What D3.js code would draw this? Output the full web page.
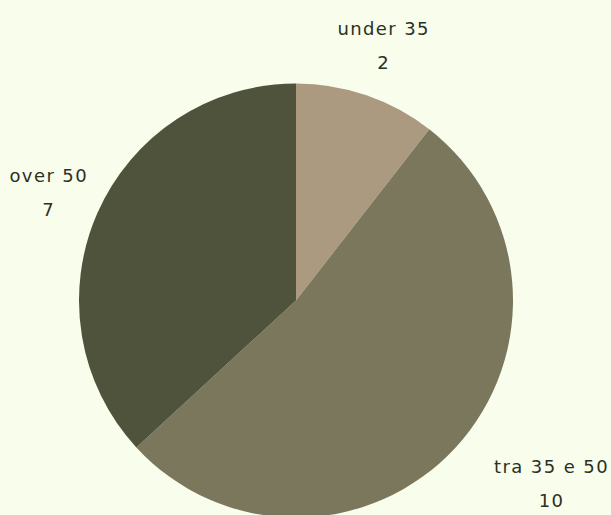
<!DOCTYPE html>
<html>
<head>
<meta charset="utf-8">
<script src="https://cdn.jsdelivr.net/npm/d3@7"></script>
<style>
  html, body { margin: 0; padding: 0; background: #f8fdec; }
  svg { display: block; }
</style>
</head>
<body>
<svg id="chart" width="611" height="515"></svg>
<script>
// Age groups and counts
const categories = ["under 35", "tra 35 e 50", "over 50"];
const counts = [2, 10, 7];
const colors = ["#ab9a80", "#7a775d", "#4f533c"];

const width = 611, height = 515;
const cx = 296, cy = 300.5, radius = 217, labelRadius = 270;
const fontFamily = "'DejaVu Sans', 'Noto Sans', sans-serif";
const fontSize = 18;
const tracking = 1.4;

const svg = d3.select("#chart");
const g = svg.append("g").attr("transform", `translate(${cx},${cy})`);

const data = categories.map((c, i) => ({ label: c, value: counts[i], color: colors[i] }));

const pie = d3.pie().value(d => d.value).sort(null);
const arc = d3.arc().innerRadius(0).outerRadius(radius);
const labelArc = d3.arc().innerRadius(labelRadius).outerRadius(labelRadius);

const arcs = pie(data);

g.selectAll("path.slice")
  .data(arcs)
  .join("path")
  .attr("class", "slice")
  .attr("d", arc)
  .attr("fill", d => d.data.color);

// Labels: category name and count
const labels = g.selectAll("g.label")
  .data(arcs)
  .join("g")
  .attr("class", "label");

labels.append("text")
  .attr("class", "name")
  .attr("text-anchor", "middle")
  .attr("y", -10)
  .attr("font-family", fontFamily)
  .attr("font-size", fontSize)
  .attr("letter-spacing", tracking)
  .attr("fill", "#2b3024")
  .text(d => d.data.label);

labels.append("text")
  .attr("text-anchor", "middle")
  .attr("y", 24)
  .attr("font-family", fontFamily)
  .attr("font-size", fontSize)
  .attr("letter-spacing", tracking)
  .attr("fill", "#2b3024")
  .text(d => d.data.value);

// Place each label at its outer centroid; a label that would cover the pie
// is pushed sideways to the canvas edge on its own side.
labels.attr("transform", function(d) {
  let [x, y] = labelArc.centroid(d);
  const half = this.querySelector("text.name").getComputedTextLength() / 2 + 2;
  const top = y - 28, bottom = y + 24;
  const nearX = x >= 0 ? x - half : x + half;
  const nearY = Math.abs(top) < Math.abs(bottom) ? top : bottom;
  if (Math.hypot(nearX, nearY) < radius) {
    x = x >= 0 ? width - cx - half : -cx + half;
  }
  x = Math.min(Math.max(x, -cx + half), width - cx - half);
  return `translate(${x},${y})`;
});
</script>
</body>
</html>
